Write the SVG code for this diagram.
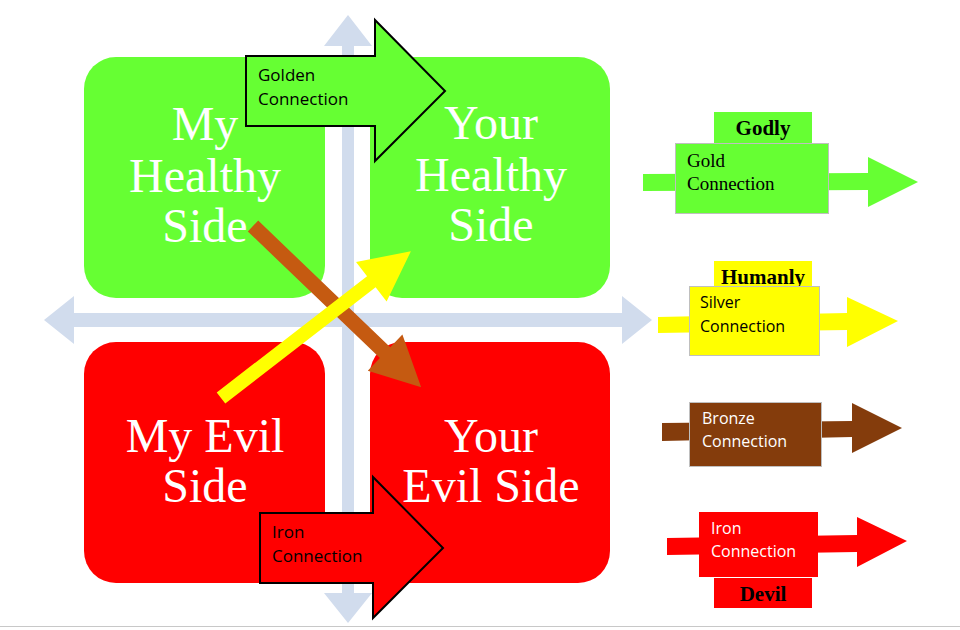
<svg xmlns="http://www.w3.org/2000/svg" width="960" height="630" viewBox="0 0 960 630">
<style>
.big{font-family:"Liberation Serif","Times New Roman",serif;font-size:48px;fill:#fff;text-anchor:middle}
.sans{font-family:"Open Sans","Liberation Sans",sans-serif;font-size:16px}
.ser{font-family:"Liberation Serif","Times New Roman",serif;font-size:19px}
.tag{font-family:"Liberation Serif","Times New Roman",serif;font-size:21px;font-weight:bold;text-anchor:middle;fill:#000}
.axis{fill:#D1DCED}
.lbox{stroke:#BFBFBF;stroke-width:1}
</style>
<rect x="0" y="0" width="960" height="630" fill="#fff"/>
<line x1="0" y1="626.5" x2="960" y2="626.5" stroke="#C8C8C8" stroke-width="1"/>

<g id="axes">
<polygon class="axis" points="348,15 372,46 354,46 354,593 372,593 348,623 324,593 342,593 342,46 324,46"/>
<polygon class="axis" points="44,320 74,296 74,313 622,313 622,296 652,320 622,344 622,327 74,327 74,344"/>
</g>

<g id="my-healthy-side">
<rect x="84" y="57" width="241" height="241" rx="32" fill="#66FF33"/>
<text class="big" x="205" y="140">My</text>
<text class="big" x="205" y="192">Healthy</text>
<text class="big" x="205" y="242">Side</text>
</g>
<g id="your-healthy-side">
<rect x="370" y="57" width="240" height="241" rx="32" fill="#66FF33"/>
<text class="big" x="491" y="139">Your</text>
<text class="big" x="491" y="191">Healthy</text>
<text class="big" x="491" y="241">Side</text>
</g>
<g id="my-evil-side">
<rect x="84" y="342" width="241" height="241" rx="32" fill="#FF0000"/>
<text class="big" x="205" y="452">My Evil</text>
<text class="big" x="205" y="502">Side</text>
</g>
<g id="your-evil-side">
<rect x="370" y="342" width="240" height="241" rx="32" fill="#FF0000"/>
<text class="big" x="491" y="452">Your</text>
<text class="big" x="491" y="502">Evil Side</text>
</g>

<g id="connectors">
<g id="golden-connection">
<polygon points="246,56 375,56 375,20 445,91 375,161 375,126 246,126" fill="#66FF33" stroke="#000" stroke-width="2"/>
<text class="sans" x="258" y="81" style="font-size:17px">Golden</text>
<text class="sans" x="258" y="105" style="font-size:17px">Connection</text>
</g>
<polygon transform="translate(253,226) rotate(43.8)" points="0,-7.5 183,-7.5 183,-25 233,0 183,25 183,7.5 0,7.5" fill="#C55A11"/>
<polygon transform="translate(221,398) rotate(-37.7)" points="0,-7 190,-7 190,-25 240,0 190,25 190,7 0,7" fill="#FFFF00"/>
<g id="iron-connection">
<polygon points="260,513 373,513 373,477 443,548 373,618 373,583 260,583" fill="#FF0000" stroke="#000" stroke-width="2"/>
<text class="sans" x="272" y="538" style="font-size:17px">Iron</text>
<text class="sans" x="272" y="562" style="font-size:17px">Connection</text>
</g>
</g>

<g id="legend-gold">
<polygon points="643,174 868,173 868,157 918,182 868,207 868,190 643,191" fill="#66FF33"/>
<rect x="714" y="112" width="98" height="31" fill="#66FF33"/>
<text class="tag" x="763" y="135">Godly</text>
<rect class="lbox" x="675.5" y="143.5" width="153" height="70" fill="#66FF33"/>
<text class="ser" x="687" y="167">Gold</text>
<text class="ser" x="687" y="190">Connection</text>
</g>
<g id="legend-silver">
<polygon points="658,317 847,313 847,297 898,321 847,347 847,330 658,333" fill="#FFFF00"/>
<rect x="714" y="261" width="98" height="26" fill="#FFFF00"/>
<text class="tag" x="763" y="284">Humanly</text>
<rect class="lbox" x="689.5" y="286.5" width="130" height="69" fill="#FFFF00"/>
<text class="sans" x="700" y="308">Silver</text>
<text class="sans" x="700" y="332">Connection</text>
</g>
<g id="legend-bronze">
<polygon points="662,423 852,421 852,403 902,428 852,453 852,437 662,441" fill="#843C0C"/>
<rect class="lbox" x="689.5" y="402.5" width="132" height="64" fill="#843C0C"/>
<text class="sans" x="702" y="424" fill="#fff">Bronze</text>
<text class="sans" x="702" y="447" fill="#fff">Connection</text>
</g>
<g id="legend-iron">
<polygon points="667,538 857,535 857,517 907,541 857,567 857,552 667,555" fill="#FF0000"/>
<rect x="699" y="512" width="119" height="65" fill="#FF0000"/>
<text class="sans" x="711" y="534" fill="#fff">Iron</text>
<text class="sans" x="711" y="557" fill="#fff">Connection</text>
<rect x="714" y="578" width="98" height="30" fill="#FF0000"/>
<text class="tag" x="763" y="601">Devil</text>
</g>
</svg>
